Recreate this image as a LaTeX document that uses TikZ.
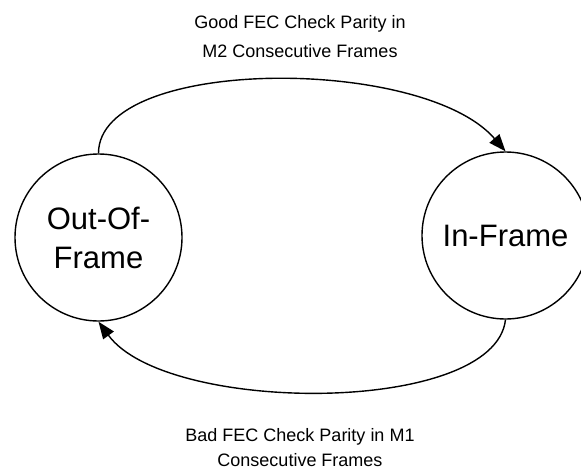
\documentclass[tikz,border=0pt]{standalone}
\usepackage{fontspec}
\setmainfont{Liberation Sans}
\usetikzlibrary{arrows.meta}
\tikzset{
  state/.style={draw, circle, line width=1.4pt, minimum size=167pt, inner sep=0pt,
    align=center, font=\fontsize{31}{39}\selectfont},
  trans/.style={line width=1.4pt, -{Triangle[length=17pt,width=13pt]}},
  lbl/.style={align=center, font=\fontsize{18}{29}\selectfont, inner sep=0pt}
}
\begin{document}
\begin{tikzpicture}[x=1pt,y=-1pt]
\useasboundingbox (0,0) rectangle (581,471);
\clip (0,0) rectangle (581,471);
\node[state] (L) at (98.5,237.5) {Out-Of-\\Frame};
\node[state] (R) at (505.5,235.5) {In-Frame};
\draw[trans] (L.north) .. controls +(0,-97) and +(-83,-96) .. (R.north);
\draw[trans] (R.south) .. controls +(-11,96) and +(68,93) .. (L.south);
\node[lbl] (top) at (300,37) {Good FEC Check Parity in\\M2 Consecutive Frames};
\node[lbl, font=\fontsize{18}{25}\selectfont] (bot) at (300,448) {Bad FEC Check Parity in M1\\Consecutive Frames};
\end{tikzpicture}
\end{document}
